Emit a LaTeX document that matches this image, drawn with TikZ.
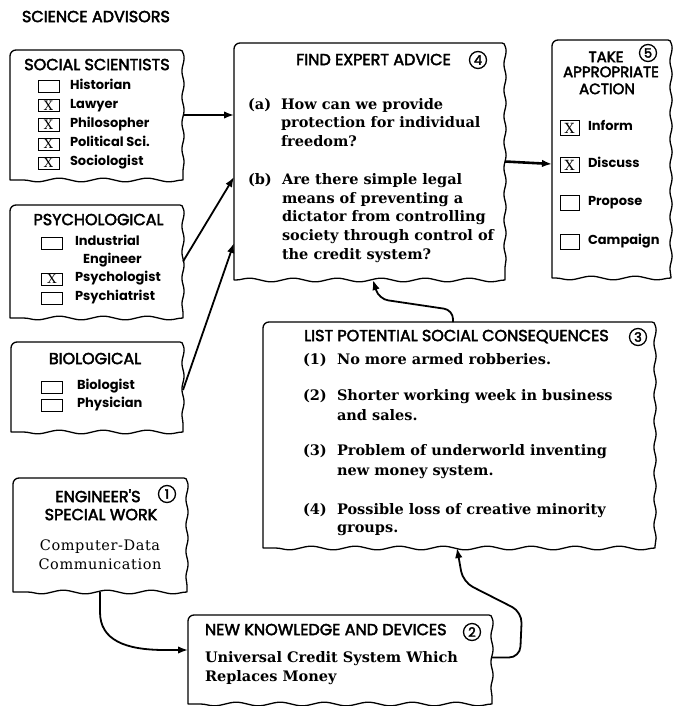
\documentclass[tikz,border=0pt]{standalone}
\usepackage{fontspec}
\usetikzlibrary{arrows.meta,decorations.pathmorphing,calc}
\newfontfamily\headfont[FakeBold=2.8]{Poppins}
\newfontfamily\itemfont{Poppins}
\newfontfamily\bodyserif{DejaVu Serif}
\newfontfamily\spacedserif[LetterSpace=4]{DejaVu Serif}

% outline of a panel: straight top and left, wavy right and bottom
\newcommand\tornoutline[1]{%
  \draw[edge] (#1.south west) [rounded corners=6pt] -- (#1.north west)
    [rounded corners=3pt] -- (#1.north east) [sharp corners]
    decorate[decoration={snake,amplitude=1.1pt,segment length=26pt}]{-- (#1.south east)}
    decorate[decoration={snake,amplitude=1.8pt,segment length=44pt}]{-- (#1.south west)};}

\begin{document}
\begin{tikzpicture}[x=1pt,y=-1pt,
  every node/.style={inner sep=0pt,outer sep=0pt},
  panel/.style={rectangle,draw=none},
  edge/.style={line width=1.3pt,line cap=round,line join=round},
  head/.style={anchor=mid,font=\headfont\fontsize{16}{16}\selectfont},
  headw/.style={head,anchor=mid west},
  takehead/.style={head,font=\headfont\fontsize{15}{15}\selectfont},
  item/.style={anchor=mid west,font=\itemfont\bfseries\fontsize{13}{13}\selectfont},
  body/.style={anchor=mid west,font=\bodyserif\bfseries\fontsize{14.5}{15}\selectfont},
  plain/.style={anchor=mid,font=\spacedserif\fontsize{14.5}{15}\selectfont},
  chk/.style={draw,line width=1pt,minimum width=21pt,minimum height=12pt,
    font=\bodyserif\fontsize{13}{13}\selectfont},
  chkbig/.style={chk,minimum width=19pt,minimum height=15pt,
    font=\bodyserif\fontsize{14}{14}\selectfont},
  num/.style={circle,draw,line width=1.3pt,minimum size=17pt,
    font=\headfont\fontsize{13}{13}\selectfont},
  arr/.style={line width=1.8pt,-{Latex[length=10pt,width=7.5pt]}}]

\fill[white] (0,0) rectangle (673,706);
\useasboundingbox (0,0) rectangle (673,706);

\node[headw] (title) at (22,20) {SCIENCE ADVISORS};

% ---- panels ----
\node[panel,minimum width=173pt,minimum height=130pt] (social) at (96.5,115) {};
\node[panel,minimum width=173pt,minimum height=113pt] (psych) at (96.5,261.5) {};
\node[panel,minimum width=172pt,minimum height=90pt] (bio) at (97,387) {};
\node[panel,minimum width=271pt,minimum height=237pt] (find) at (369.5,161.5) {};
\node[panel,minimum width=119pt,minimum height=238pt] (take) at (611.5,159) {};
\node[panel,minimum width=392pt,minimum height=226pt] (list) at (459,435) {};
\node[panel,minimum width=174pt,minimum height=114pt] (eng) at (100,535) {};
\node[panel,minimum width=304pt,minimum height=89pt] (newk) at (340,659.5) {};

\foreach \p in {social,psych,bio,find,take,list,eng,newk}{\tornoutline{\p}}

% ---- social scientists ----
\node[head] (socialT) at (97,68) {SOCIAL SCIENTISTS};
\node[chk] (s1) at (48.5,87) {};  \node[item] (s1t) at (70,87) {Historian};
\node[chk] (s2) at (48.5,106) {X}; \node[item] (s2t) at (70,106) {Lawyer};
\node[chk] (s3) at (48.5,125) {X}; \node[item] (s3t) at (70,125) {Philosopher};
\node[chk] (s4) at (48.5,144) {X}; \node[item] (s4t) at (70,144) {Political Sci.};
\node[chk] (s5) at (48.5,163) {X}; \node[item] (s5t) at (70,163) {Sociologist};

% ---- psychological ----
\node[head] (psychT) at (98.5,223) {PSYCHOLOGICAL};
\node[chk] (p1) at (52,243) {};  \node[item] (p1t) at (75,243) {Industrial};
\node[item] (p1u) at (83,261) {Engineer};
\node[chk] (p2) at (52,279) {X}; \node[item] (p2t) at (75,279) {Psychologist};
\node[chk] (p3) at (52,298) {};  \node[item] (p3t) at (75,298) {Psychiatrist};

% ---- biological ----
\node[head] (bioT) at (95,362) {BIOLOGICAL};
\node[chk] (b1) at (52,387) {}; \node[item] (b1t) at (77,387) {Biologist};
\node[chk] (b2) at (52,405) {}; \node[item] (b2t) at (77,405) {Physician};

% ---- find expert advice ----
\node[head] (findT) at (373.5,63) {FIND EXPERT ADVICE};
\node[num] (n4) at (478,60) {4};
\node[body] (fa) at (248,107) {(a)};
\node[body] (fa1) at (281,107) {How can we provide};
\node[body] (fa2) at (281,125) {protection for individual};
\node[body] (fa3) at (281,144) {freedom?};
\node[body] (fb) at (248,182) {(b)};
\node[body] (fb1) at (282,182) {Are there simple legal};
\node[body] (fb2) at (282,201) {means of preventing a};
\node[body] (fb3) at (282,219) {dictator from controlling};
\node[body] (fb4) at (282,238) {society through control of};
\node[body] (fb5) at (282,257) {the credit system?};

% ---- take appropriate action ----
\node[takehead] (takeT1) at (606,60) {TAKE};
\node[takehead] (takeT2) at (611,75) {APPROPRIATE};
\node[takehead] (takeT3) at (607,92) {ACTION};
\node[num] (n5) at (648,53) {5};
\node[chkbig] (t1) at (569.5,128) {X}; \node[item] (t1t) at (588,128) {Inform};
\node[chkbig] (t2) at (569.5,165) {X}; \node[item] (t2t) at (588,165) {Discuss};
\node[chkbig] (t3) at (569.5,203) {};  \node[item] (t3t) at (588,203) {Propose};
\node[chkbig] (t4) at (569.5,242) {};  \node[item] (t4t) at (588,242) {Campaign};

% ---- social consequences ----
\node[head] (listT) at (456.5,339) {LIST POTENTIAL SOCIAL CONSEQUENCES};
\node[num] (n3) at (638,337) {3};
\node[body] (l1) at (303,362) {(1)}; \node[body] (l1a) at (337,362) {No more armed robberies.};
\node[body] (l2) at (303,398) {(2)}; \node[body] (l2a) at (337,398) {Shorter working week in business};
\node[body] (l2b) at (337,418) {and sales.};
\node[body] (l3) at (303,453) {(3)}; \node[body] (l3a) at (337,453) {Problem of underworld inventing};
\node[body] (l3b) at (337,473) {new money system.};
\node[body] (l4) at (303,512) {(4)}; \node[body] (l4a) at (337,512) {Possible loss of creative minority};
\node[body] (l4b) at (337,530) {groups.};

% ---- engineer's special work ----
\node[head] (engT1) at (98,500) {ENGINEER'S};
\node[head] (engT2) at (101,518) {SPECIAL WORK};
\node[num] (n1) at (167,494) {1};
\node[plain] (eng1) at (100,548) {Computer-Data};
\node[plain] (eng2) at (100,567) {Communication};

% ---- new knowledge and devices ----
\node[headw] (newkT) at (205,633) {NEW KNOWLEDGE AND DEVICES};
\node[num] (n2) at (472,632) {2};
\node[body] (nk1) at (205,660) {Universal Credit System Which};
\node[body] (nk2) at (205,679) {Replaces Money};

% ---- connectors ----
\draw[arr] (social.east) -- (social.east -| find.west);
\draw[arr] (psych.east) -- ([yshift=-15.5pt]find.west);
\draw[arr] ([yshift=-3pt]bio.east) -- ([yshift=-81.5pt]find.west);
\draw[arr,line width=2.6pt] (find.east) -- ([yshift=-5pt]take.west);
\draw[arr,rounded corners=9pt] ([xshift=-6pt]list.north) -- ++(0,-12) -- (379,299) -- ([xshift=3.5pt]find.south);
\draw[arr,rounded corners=11pt] ([yshift=2pt]newk.east) -- (520,657.5) -- (522,612) -- (463,582) -- ([xshift=-2pt]list.south);
\draw[arr] (eng.south) -- (100,612) .. controls (100,640) and (125,650) .. (165,650) -- ([yshift=9.5pt]newk.west);

\end{tikzpicture}
\end{document}
